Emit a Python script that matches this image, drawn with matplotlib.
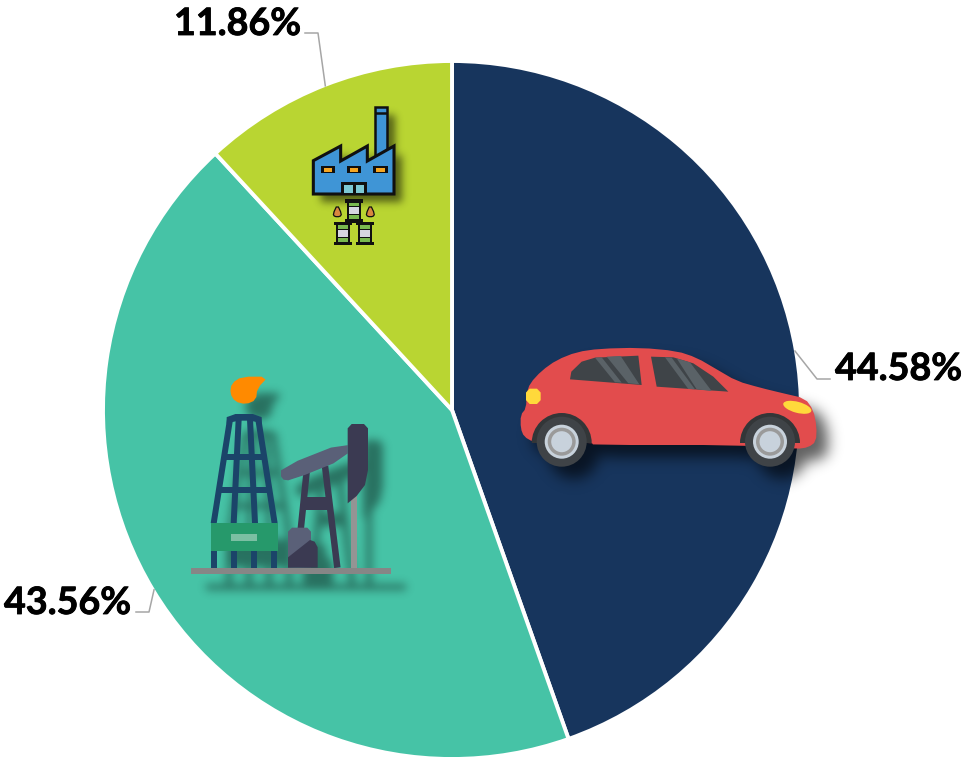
import numpy as np
import matplotlib
matplotlib.use('Agg')
import matplotlib.pyplot as plt
import matplotlib.patheffects as pe
from matplotlib.path import Path
from matplotlib.patches import Polygon, Circle, Ellipse, Wedge

# slices, clockwise from 12 o'clock
shares = [44.58, 43.56, 11.86]
colors = ['#17355d', '#46c3a6', '#b9d532']

# pie position in pixels
cx, cy, rad = 452, 410, 348
W, H = 966, 761

# label text position and the elbow of its leader line
label_pos = [(835, 380), (4, 614), (174, 35)]
elbows = [[(817, 379), (830, 379)], [(149, 612), (136, 612)], [(318, 33), (305, 33)]]

plt.rcParams['font.family'] = ['Lato', 'DejaVu Sans']

fig = plt.figure(figsize=(W / 100, H / 100), dpi=100)
# the white edge eats into the wedge, so draw it a little larger
r_draw = rad + 1
ax_pie = fig.add_axes([(cx - r_draw) / W, 1 - (cy + r_draw) / H, 2 * r_draw / W, 2 * r_draw / H])
ax_pie.pie(shares, colors=colors, startangle=90, counterclock=False, radius=1,
           wedgeprops={'edgecolor': 'white', 'linewidth': 2.8})
ax_pie.set_xlim(-1, 1)
ax_pie.set_ylim(-1, 1)

# overlay in image pixels, y going down
ax = fig.add_axes([0, 0, 1, 1])
ax.set_xlim(0, W)
ax.set_ylim(H, 0)
ax.axis('off')
ax.patch.set_alpha(0)

grid_x, grid_y = np.meshgrid(np.arange(W) + 0.5, np.arange(H) + 0.5)
grid = np.column_stack([grid_x.ravel(), grid_y.ravel()])
cast = []  # shapes of the icon being drawn, they throw the shadow


def smooth(pts, n=2):
    # corner cutting so the outlines are not jagged
    pts = np.array(pts, float)
    for _ in range(n):
        nxt = np.roll(pts, -1, axis=0)
        pts = np.column_stack([0.75 * pts + 0.25 * nxt, 0.25 * pts + 0.75 * nxt]).reshape(-1, 2)
    return pts


def zoomed(pts, x0, y0):
    return [(x0 + x / 3, y0 + y / 3) for x, y in pts]


def blur(img, sigma):
    t = np.arange(-int(3 * sigma), int(3 * sigma) + 1)
    k = np.exp(-t ** 2 / (2 * sigma ** 2))
    k /= k.sum()
    img = np.apply_along_axis(lambda r: np.convolve(r, k, mode='same'), 0, img)
    return np.apply_along_axis(lambda r: np.convolve(r, k, mode='same'), 1, img)


def soft_shadow(dx, dy, sigma, strength):
    mask = np.zeros(W * H, bool)
    for pts in cast:
        mask |= Path(np.array(pts) + [dx, dy]).contains_points(grid)
    mask = blur(mask.reshape(H, W).astype(float), sigma)
    rgba = np.zeros((H, W, 4))
    rgba[..., 3] = mask * strength
    ax.imshow(rgba, extent=(0, W, H, 0), zorder=1, aspect='auto', interpolation='bilinear')
    ax.set_xlim(0, W)
    ax.set_ylim(H, 0)
    cast.clear()


def poly(pts, color, z=3, **kw):
    cast.append(list(map(tuple, pts)))
    ax.add_patch(Polygon(pts, closed=True, fc=color, ec=kw.pop('ec', 'none'), zorder=z, **kw))


def bar(p, q, color, z=3):
    (x0, y0), (x1, y1) = p, q
    poly([(x0, y0), (x1, y0), (x1, y1), (x0, y1)], color, z)


def strut(p, q, w, color, z=3):
    p, q = np.array(p, float), np.array(q, float)
    n = np.array([q[1] - p[1], p[0] - q[0]])
    n = n / np.hypot(*n) * w / 2
    poly([p + n, q + n, q - n, p - n], color, z)


# ---- car ----
def car_pts(pts):
    return zoomed(pts, 500, 330)


body = car_pts([(100, 336), (72, 320), (62, 295), (62, 255), (78, 235), (80, 190), (90, 160), (125, 122), (170, 90),
                (230, 66), (300, 56), (420, 53), (530, 63), (590, 83), (650, 118), (710, 153),
                (780, 173), (850, 190), (915, 205), (940, 240), (950, 290), (948, 335), (925, 352),
                (890, 357), (720, 345), (280, 345), (275, 338)])
body = smooth(body, 1)
poly(body, '#e24c4d')
poly(car_pts([(210, 148), (214, 125), (245, 95), (285, 83), (415, 77), (425, 165)]), '#3f4448', z=4)
poly(car_pts([(453, 80), (520, 82), (580, 100), (640, 140), (685, 185), (470, 170)]), '#3f4448', z=4)
for s in ([(285, 83), (305, 82), (365, 158), (345, 157)], [(320, 80), (362, 78), (418, 163), (385, 160)],
          [(495, 82), (515, 83), (585, 178), (565, 177)], [(530, 85), (570, 97), (635, 183), (590, 178)]):
    poly(car_pts(s), '#5a6267', z=5)
poly(smooth(car_pts([(78, 176), (122, 176), (122, 222), (78, 222)]), 1), '#ffd93b', z=5)
ax.add_patch(Ellipse((797.3, 407.3), 29, 11, angle=15, fc='#ffd93b', ec='none', zorder=5))
for wx in (561.7, 770):
    cast.append([(wx + 25 * np.cos(t), 441.7 + 25 * np.sin(t)) for t in np.linspace(0, 2 * np.pi, 40)])
    # the arch only shows above the sill
    ax.add_patch(Wedge((wx, 443), 30, 180, 360, fc='#333638', ec='none', zorder=5.5))
    for r, c in ((25, '#3f4347'), (17, '#c8d2dc'), (14, '#9a9a9a'), (10.5, '#c8d2dc')):
        ax.add_patch(Circle((wx, 441.7), r, fc=c, ec='none', zorder=6))
soft_shadow(12, 12, 7, 0.62)


# ---- oil pump ----
def oil(*pts):
    out = zoomed(pts, 170, 360)
    return out


navy = '#1b4469'
dark = '#3b3a52'
slate = '#5a6078'
flame = smooth(oil((295, 50), (215, 50), (185, 70), (180, 100), (195, 125), (228, 133), (258, 120), (262, 85)), 1)
poly(flame, '#ff8a00')
poly(smooth(oil((170, 200), (170, 162), (275, 162), (275, 200), (258, 182), (190, 182)), 1), navy)
for p, q in (((181, 172), (131, 490)), ((206, 178), (191, 490)), ((240, 178), (255, 490)), ((264, 172), (314, 490)),
             ((165, 291), (280, 291)), ((150, 391), (296, 391))):
    strut(*oil(p, q), 6, navy)
for lx in (132, 192, 252, 312):
    bar(*oil((lx - 9, 572), (lx + 9, 623)), navy)
bar(*oil((123, 490), (323, 572)), '#26996b', z=4)
bar(*oil((183, 522), (262, 542)), '#7bbfa3', z=5)
bar(*oil((543, 400), (562, 623)), '#949494')
strut(*oil((410, 335), (392, 510)), 6.5, dark)
strut(*oil((465, 318), (502, 623)), 6.5, dark)
bar(*oil((400, 412), (480, 450)), dark)
poly(smooth(oil((333, 322), (533, 243), (533, 293), (362, 362), (333, 358)), 1), slate, z=4)
poly(oil((533, 430), (533, 205), (545, 192), (582, 192), (594, 205), (594, 330), (585, 375), (560, 408)), dark, z=5)
poly(oil((354, 623), (354, 515), (366, 503), (412, 503), (423, 515), (423, 623)), slate, z=4)
poly(oil((354, 592), (420, 540), (434, 545), (443, 562), (443, 623), (354, 623)), dark, z=5)
bar(*oil((63, 623), (663, 641)), '#868686', z=6)
soft_shadow(15, 16, 4.5, 0.42)


# ---- factory ----
def fac(*pts):
    return zoomed(pts, 290, 90)


blk = '#101010'
poly(fac((255, 200), (255, 50), (290, 50), (290, 190)), '#3f95d6', ec=blk, lw=1.8)
ax.plot(*zip(*fac((255, 68), (290, 68))), color=blk, lw=1.8, zorder=3, solid_capstyle='butt')
poly(fac((70, 312), (70, 212), (152, 168), (152, 213), (232, 168), (232, 213), (312, 168), (312, 312)),
     '#3f95d6', z=4, ec=blk, lw=2.2, joinstyle='miter')
soft_shadow(8, 8, 4, 0.55)
for wx in (92, 170, 250):
    bar(*fac((wx, 228), (wx + 43, 250)), blk, z=5)
    bar(*fac((wx + 9, 234), (wx + 35, 245)), '#f5a623', z=6)
bar(*fac((154, 277), (231, 312)), blk, z=5)
bar(*fac((162, 285), (188, 310)), '#7dc9d4', z=6)
bar(*fac((197, 285), (223, 310)), '#7dc9d4', z=6)
for bx, by in ((192, 328), (159, 396), (225, 396)):
    bar(*fac((bx - 22, by + 2), (bx + 22, by + 66)), blk, z=5)
    bar(*fac((bx - 16, by + 8), (bx + 16, by + 60)), '#79b94f', z=6)
    bar(*fac((bx - 17, by + 20), (bx + 17, by + 48)), blk, z=7)
    bar(*fac((bx - 15, by + 23), (bx + 15, by + 45)), '#d6d6e0', z=8)
    bar(*fac((bx - 28, by), (bx + 28, by + 10)), blk, z=9)
    bar(*fac((bx - 28, by + 60), (bx + 28, by + 70)), blk, z=9)
for dx in (142, 241):
    poly(smooth(fac((dx, 344), (dx + 13, 372), (dx + 8, 380), (dx - 8, 380), (dx - 13, 372)), 1), '#d8873f', z=6, ec=blk, lw=0.9)
cast.clear()

# ---- labels and leader lines, leaders start at the middle of each slice ----
start = 0
for share, pos, elbow in zip(shares, label_pos, elbows):
    mid = np.radians((start + share / 2) * 3.6)
    start += share
    px, py = cx + rad * np.sin(mid), cy - rad * np.cos(mid)
    xs = [px] + [e[0] for e in elbow]
    ys = [py] + [e[1] for e in elbow]
    ax.plot(xs, ys, color='#a6a6a6', lw=1.1, zorder=2)
    ax.text(pos[0], pos[1], f'{share:.2f}%', fontsize=27.1, fontweight='bold', color='black',
            ha='left', va='baseline', zorder=10,
            path_effects=[pe.withStroke(linewidth=0.6, foreground='black')])

fig.savefig('out.png', dpi=100)
